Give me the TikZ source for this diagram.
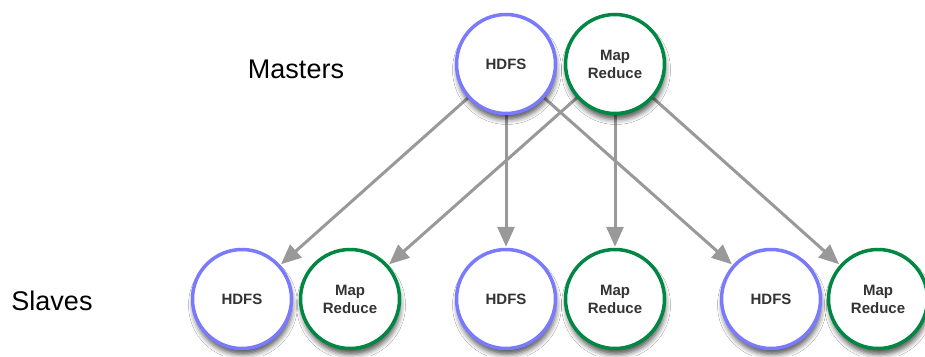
\documentclass[tikz,border=0pt]{standalone}
\usepackage{fontspec}
\setmainfont{Liberation Sans}
\usetikzlibrary{arrows.meta,shadows.blur}
\definecolor{hdfsblue}{RGB}{122,122,255}
\definecolor{mrgreen}{RGB}{0,135,68}
\definecolor{arrgray}{RGB}{153,153,153}
\begin{document}
\begin{tikzpicture}[x=1pt,y=-1pt,
  nodecirc/.style={circle, minimum size=99pt, inner sep=0pt, line width=3.5pt, fill=white,
    align=center, font=\bfseries\fontsize{15}{18}\selectfont, text=black!80,
    blur shadow={shadow xshift=1pt, shadow yshift=-6pt, shadow blur radius=5pt, shadow blur extra rounding=0pt, shadow opacity=65}},
  hdfsnode/.style={nodecirc, draw=hdfsblue},
  mrnode/.style={nodecirc, draw=mrgreen},
  flow/.style={draw=arrgray, line width=3pt, -{Triangle[length=20pt,width=17pt]}, shorten >=1pt},
  lbl/.style={font=\fontsize{27}{30}\selectfont, anchor=base}]
\useasboundingbox (0,0) rectangle (925,356);
\fill[white] (0,0) rectangle (925,356);
% slaves
\node[hdfsnode] (h1) at (242,299) {HDFS};
\node[mrnode] (m1) at (350,299) {Map\\Reduce};
\node[hdfsnode] (h2) at (506,299) {HDFS};
\node[mrnode] (m2) at (615,299) {Map\\Reduce};
\node[hdfsnode] (h3) at (771,299) {HDFS};
\node[mrnode] (m3) at (878,299) {Map\\Reduce};
% arrows
\coordinate (hm) at (506,64);
\coordinate (mm) at (615,64);
\draw[flow] (hm) -- (h1);
\draw[flow] (hm) -- (h2);
\draw[flow] (hm) -- (h3);
\draw[flow] (mm) -- (m1);
\draw[flow] (mm) -- (m2);
\draw[flow] (mm) -- (m3);
% masters
\node[hdfsnode] (hmaster) at (hm) {HDFS};
\node[mrnode] (mmaster) at (mm) {Map\\Reduce};
% labels
\node[lbl] (masters) at (296,78) {Masters};
\node[lbl] (slaves) at (52,310) {Slaves};
\end{tikzpicture}
\end{document}
